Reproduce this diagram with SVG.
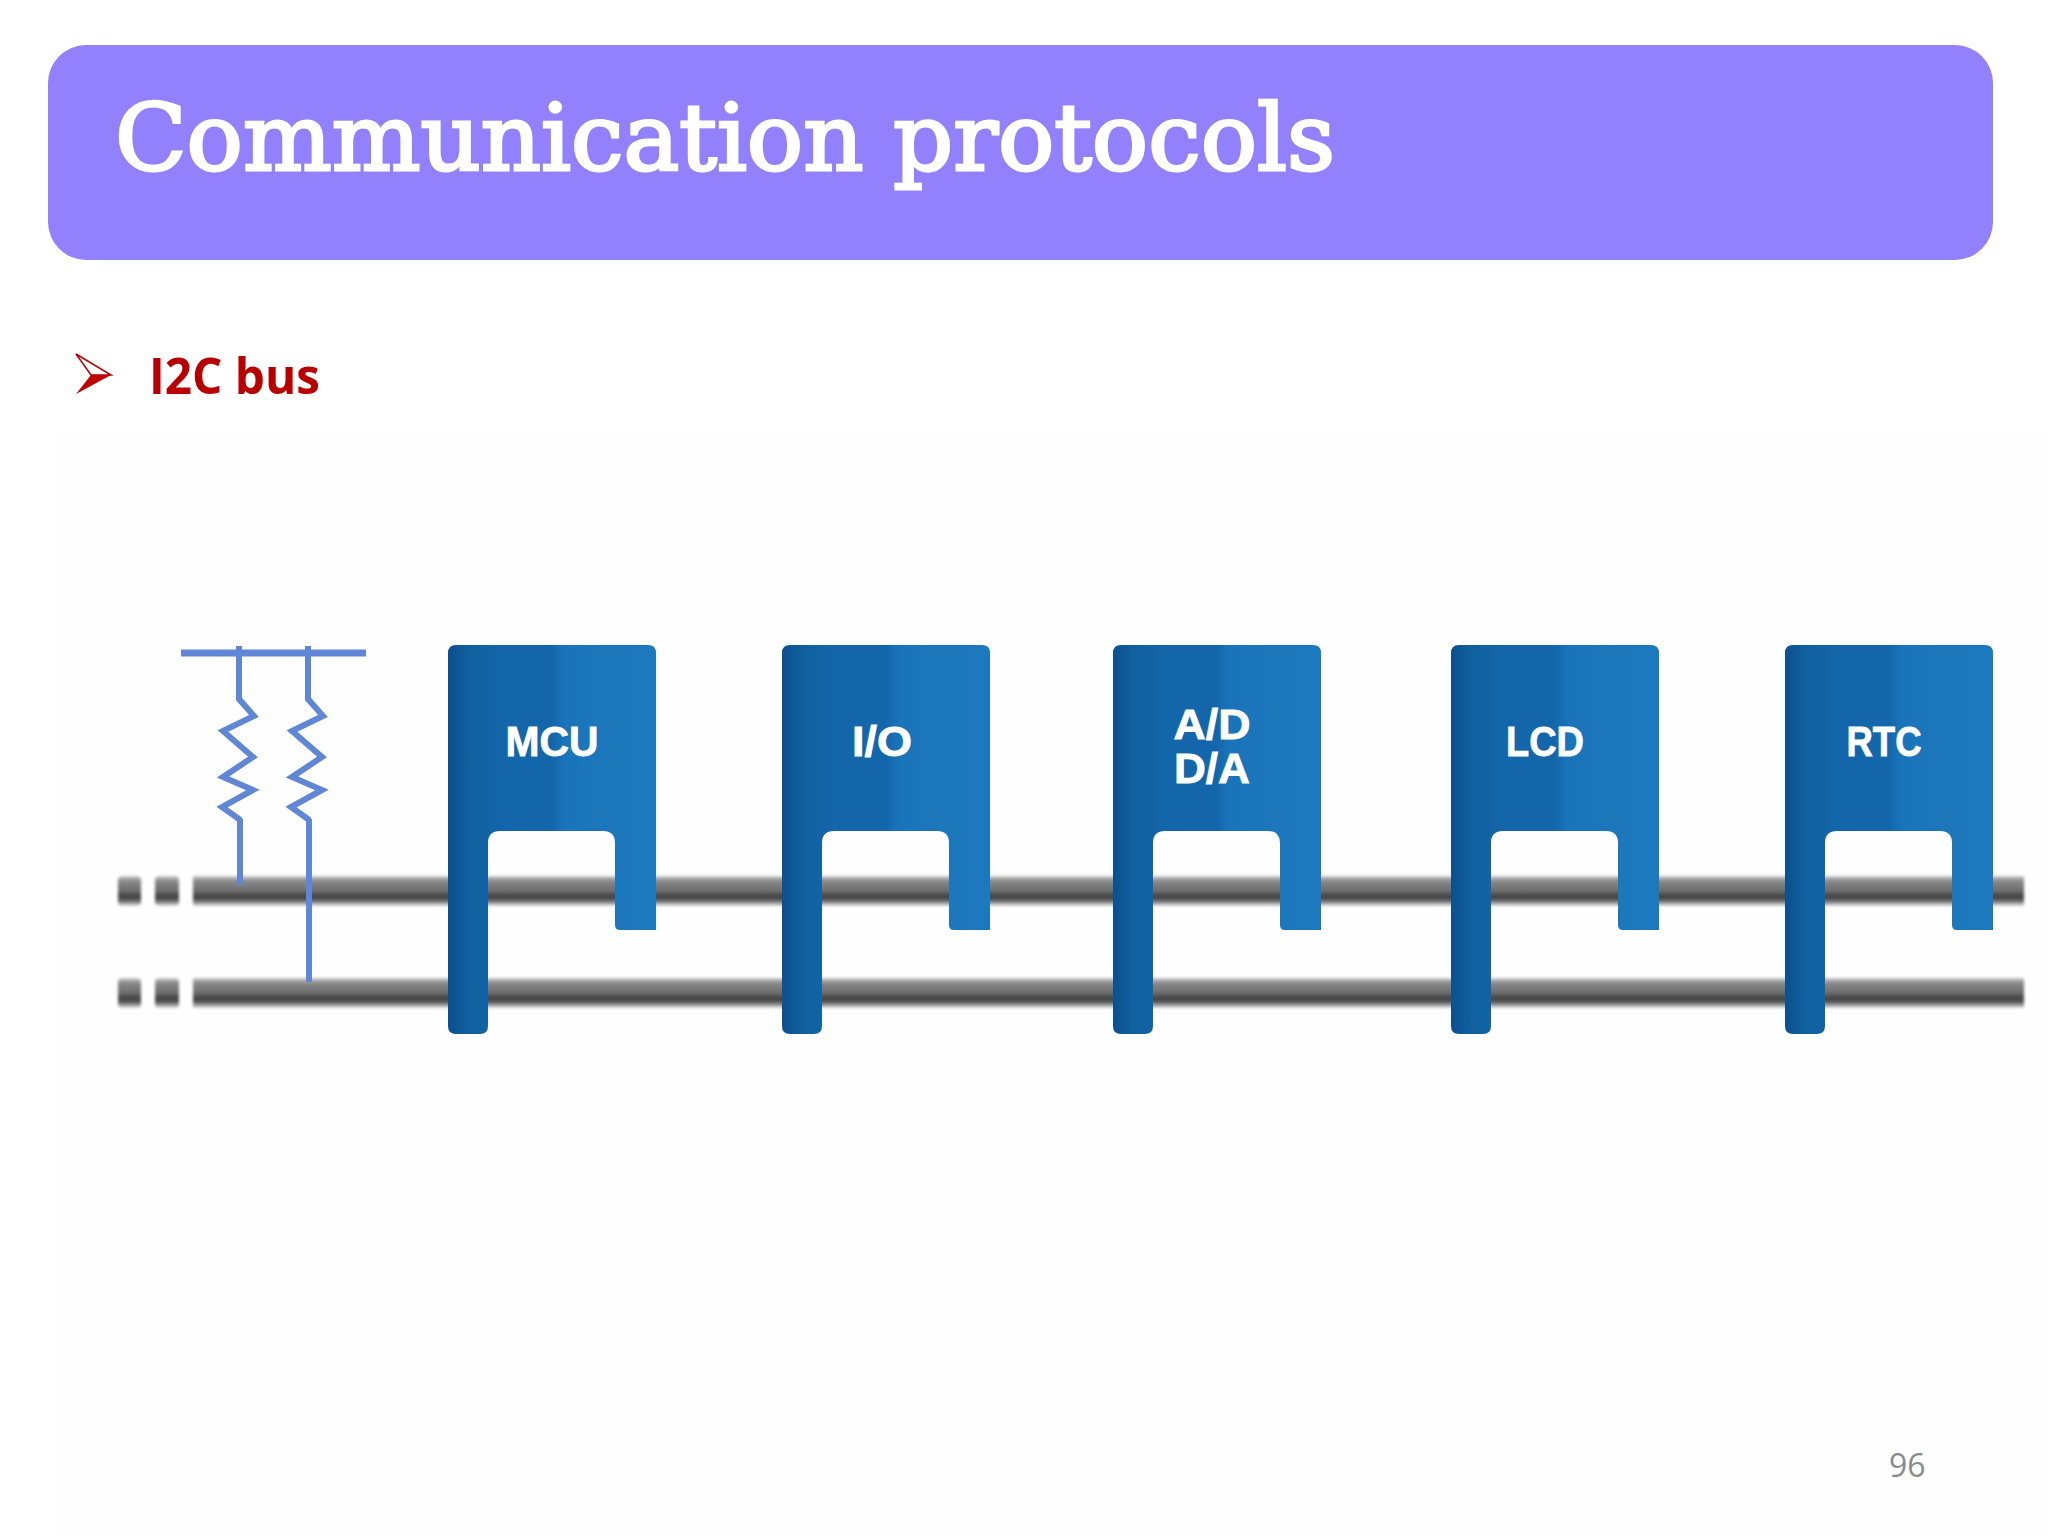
<svg xmlns="http://www.w3.org/2000/svg" width="2048" height="1536" viewBox="0 0 2048 1536">
<style>
.lbl{font-family:"Liberation Sans",Arial,sans-serif;font-weight:700;font-size:42px;fill:#fff;stroke:#fff;stroke-width:.8;text-anchor:middle}
.pull{fill:none;stroke:#5f87d6;stroke-width:6;stroke-linejoin:miter}
</style>
<defs>
<filter id="soft" x="-2%" y="-30%" width="104%" height="160%"><feGaussianBlur stdDeviation="1.6"/></filter>
<linearGradient id="blue" x1="0" y1="0" x2="1" y2="0">
<stop offset="0" stop-color="#0c4f8f"/><stop offset=".1" stop-color="#11609f"/><stop offset=".25" stop-color="#1366a9"/><stop offset=".5" stop-color="#1466ab"/><stop offset=".56" stop-color="#1a74b9"/><stop offset="1" stop-color="#1d79bd"/>
</linearGradient>
<linearGradient id="bus" x1="0" y1="0" x2="0" y2="1">
<stop offset="0" stop-color="#cfcfcf"/><stop offset=".16" stop-color="#8a8a8a"/><stop offset=".5" stop-color="#6c6c6c"/><stop offset=".68" stop-color="#3f3f3f"/><stop offset=".82" stop-color="#606060"/><stop offset="1" stop-color="#e0e0e0"/>
</linearGradient>
<path id="blk" fill="url(#blue)" d="M8,0 H200 Q208,0 208,8 V285 H172 Q167,285 167,280 V198 Q167,186 155,186 H52 Q40,186 40,198 V381 Q40,389 32,389 H8 Q0,389 0,381 V8 Q0,0 8,0 Z"/>
<path id="zig" class="pull" d="M0,-2 V51 L15,68 L-16,83 L14,109 L-16,129 L14,142 L-17,159 L0,171 V173"/>
</defs>
<rect width="2048" height="1536" fill="#fff"/>
<rect x="60" y="430" width="1988" height="1106" fill="#fefefe"/>
<g id="title-banner">
<rect x="48" y="45" width="1945" height="215" rx="38" fill="#9280fc"/>
<text x="115" y="170" font-family="'DejaVu Serif','Liberation Serif',serif" font-size="92" fill="#fff" stroke="#fff" stroke-width="3" textLength="1220" lengthAdjust="spacingAndGlyphs">Communication protocols</text>
</g>
<g id="heading">
<path d="M76,354 L111,375 L91,375 Z" fill="#fff" stroke="#b80000" stroke-width="1.5"/>
<path d="M76,394 L111,375 L91,375 Z" fill="#c00000"/>
<text x="149" y="394" font-family="'Open Sans','Liberation Sans',sans-serif" font-weight="700" font-size="50" fill="#b90000" textLength="171" lengthAdjust="spacingAndGlyphs">I2C bus</text>
</g>
<g id="connectors">
<g id="bus-top" filter="url(#soft)">
<rect x="118" y="876" width="23" height="30" rx="4" fill="url(#bus)"/>
<rect x="155" y="876" width="24" height="30" rx="4" fill="url(#bus)"/>
<rect x="193" y="876" width="1831" height="30" fill="url(#bus)"/>
</g>
<g id="bus-bottom" filter="url(#soft)">
<rect x="118" y="978" width="23" height="30" rx="4" fill="url(#bus)"/>
<rect x="155" y="978" width="24" height="30" rx="4" fill="url(#bus)"/>
<rect x="193" y="978" width="1831" height="30" fill="url(#bus)"/>
</g>
<g id="pullups">
<path d="M181,653 H366" class="pull" style="stroke-width:7"/>
<use href="#zig" x="239" y="648"/>
<use href="#zig" x="308" y="648"/>
<path d="M240,819 V885" class="pull"/>
<path d="M309,819 V982" class="pull"/>
</g>
</g>
<g id="node-mcu"><use href="#blk" x="448" y="645"/><text class="lbl" x="552" y="756" textLength="93" lengthAdjust="spacingAndGlyphs">MCU</text></g>
<g id="node-io"><use href="#blk" x="782" y="645"/><text class="lbl" x="882" y="756" textLength="60" lengthAdjust="spacingAndGlyphs">I/O</text></g>
<g id="node-adda"><use href="#blk" x="1113" y="645"/><text class="lbl" x="1212" y="739" textLength="77" lengthAdjust="spacingAndGlyphs">A/D</text><text class="lbl" x="1212" y="783" textLength="76" lengthAdjust="spacingAndGlyphs">D/A</text></g>
<g id="node-lcd"><use href="#blk" x="1451" y="645"/><text class="lbl" x="1545" y="756" textLength="78" lengthAdjust="spacingAndGlyphs">LCD</text></g>
<g id="node-rtc"><use href="#blk" x="1785" y="645"/><text class="lbl" x="1884" y="756" textLength="75" lengthAdjust="spacingAndGlyphs">RTC</text></g>
<text id="page-number" x="1889" y="1477" font-family="'Open Sans','Liberation Sans',sans-serif" font-size="32" fill="#8b8b8b">96</text>
</svg>
